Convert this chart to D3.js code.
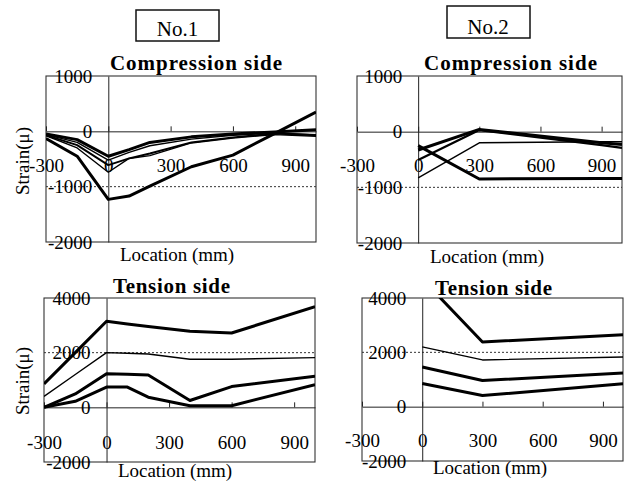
<!DOCTYPE html>
<html>
<head>
<meta charset="utf-8">
<script src="https://cdn.jsdelivr.net/npm/d3@7"></script>
<style>
  body { margin: 0; background: #fff; }
  svg { display: block; font-family: "Liberation Serif", "Times New Roman", serif; }
</style>
</head>
<body>
<svg id="chart" width="627" height="484"></svg>
<script>
// ---------- data ----------
const xTickValues = [-300, 0, 300, 600, 900];
const compYTicks = [1000, 0, -1000, -2000];
const tensYTicks = [4000, 2000, 0, -2000];

// No.1 compression side
const no1CompX = [-300, -150, 0, 100, 200, 400, 600, 800, 1000];
const no1CompA = [-130, -450, -1230, -1170, -990, -640, -430, -40, 350];
const no1CompB = [-80, -300, -740, -490, -440, -210, -120, -60, -90];
const no1CompC = [-50, -150, -450, -330, -200, -100, -50, -10, 30];
const no1CompD = [-60, -200, -520, -380, -260, -140, -70, -30, -60];
const no1CompE = [-70, -250, -610, -490, -400, -200, -110, -40, -70];

// No.2 compression side
const no2CompX = [0, 300, 900, 1000];
const no2CompA = [-250, -850, -840, -840];
const no2CompB = [-330, 40, -200, -230];
const no2CompC = [-510, 30, -240, -290];
const no2CompD = [-830, -200, -180, -180];

// No.1 tension side
const no1TensX = [-300, -150, 0, 100, 200, 400, 600, 1000];
const no1TensA = [860, 2000, 3150, 3050, 2960, 2780, 2720, 3680];
const no1TensB = [400, 1200, 2000, 1980, 1950, 1760, 1760, 1820];
const no1TensC = [0, 490, 1230, 1210, 1180, 250, 760, 1140];
const no1TensD = [0, 220, 740, 740, 370, 60, 60, 830];

// No.2 tension side
const no2TensX = [0, 300, 1000];
const no2TensA = [4700, 2380, 2650];
const no2TensB = [2200, 1720, 1830];
const no2TensC = [1460, 960, 1240];
const no2TensD = [850, 410, 840];

const THICK = 3, THIN = 1.4;
const fmt = d => String(d);

const svg = d3.select("#chart");

function panel(cfg) {
  const x = d3.scaleLinear().domain([-300, 1000]).range([cfg.left, cfg.right]);
  const y = d3.scaleLinear().domain(cfg.yDomain).range([cfg.bottom, cfg.top]);
  const g = svg.append("g");

  const clipId = "clip" + cfg.id;
  svg.append("clipPath").attr("id", clipId)
    .append("rect").attr("x", cfg.left).attr("y", cfg.top)
    .attr("width", cfg.right - cfg.left).attr("height", cfg.bottom - cfg.top);

  // dashed reference line
  g.append("line")
    .attr("x1", cfg.left).attr("x2", cfg.right)
    .attr("y1", y(cfg.dashAt)).attr("y2", y(cfg.dashAt))
    .attr("stroke", "#333").attr("stroke-width", 1).attr("stroke-dasharray", "2,2");

  // box
  g.append("rect")
    .attr("x", cfg.left).attr("y", cfg.top)
    .attr("width", cfg.right - cfg.left).attr("height", cfg.bottom - cfg.top)
    .attr("fill", "none").attr("stroke", "#333").attr("stroke-width", 1.1);

  // x axis along y=0
  const xa = g.append("g").attr("transform", `translate(0,${y(0)})`)
    .call(d3.axisBottom(x).tickValues(xTickValues).tickFormat(fmt)
      .tickSizeInner(-5).tickSizeOuter(0).tickPadding(cfg.xPad));
  // y axis along x=0
  const ya = g.append("g").attr("transform", `translate(${x(0)},0)`)
    .call(d3.axisLeft(y).tickValues(cfg.yTicks).tickFormat(fmt).tickSize(0).tickPadding(16));
  [xa, ya].forEach(a => {
    a.attr("font-family", "Liberation Serif");
    a.selectAll("path.domain").attr("stroke", "#222").attr("stroke-width", 1);
    a.selectAll("line").attr("stroke", "#222").attr("stroke-width", 1);
    a.selectAll("text").attr("font-size", 19).attr("fill", "#000");
  });

  // series
  const line = d3.line().x((d, i) => x(cfg.xs[i])).y(d => y(d));
  cfg.series.forEach(s => {
    g.append("path").datum(s.values)
      .attr("d", line)
      .attr("fill", "none").attr("stroke", "#000")
      .attr("stroke-width", s.w).attr("stroke-linejoin", "round")
      .attr("clip-path", `url(#${clipId})`);
  });

  // title
  g.append("text").text(cfg.title)
    .attr("x", cfg.titleX).attr("y", cfg.titleY)
    .attr("font-size", 21).attr("font-weight", "bold")
    .attr("textLength", cfg.titleW).attr("lengthAdjust", "spacing");

  // x label
  g.append("text").text("Location (mm)")
    .attr("x", cfg.xlabX).attr("y", cfg.xlabY)
    .attr("font-size", 19).attr("textLength", 114).attr("lengthAdjust", "spacing");

  if (cfg.ylab) {
    g.append("text").text("Strain(μ)")
      .attr("transform", `translate(29,${cfg.ylabY}) rotate(-90)`)
      .attr("text-anchor", "middle").attr("font-size", 19);
  }
}

panel({
  id: 1, left: 46, right: 316, top: 76, bottom: 242, yDomain: [-2000, 1000],
  yTicks: compYTicks, dashAt: -1000, xPad: 27, xs: no1CompX,
  series: [
    { values: no1CompA, w: THICK }, { values: no1CompB, w: THIN },
    { values: no1CompC, w: THICK }, { values: no1CompD, w: THIN },
    { values: no1CompE, w: 1.9 }
  ],
  title: "Compression side", titleX: 110, titleY: 70, titleW: 172,
  xlabX: 120, xlabY: 261, ylab: true, ylabY: 161
});

panel({
  id: 2, left: 357, right: 622, top: 76, bottom: 243, yDomain: [-2000, 1000],
  yTicks: compYTicks, dashAt: -1000, xPad: 27, xs: no2CompX,
  series: [
    { values: no2CompA, w: THICK }, { values: no2CompB, w: THICK },
    { values: no2CompC, w: 2.3 }, { values: no2CompD, w: THIN }
  ],
  title: "Compression side", titleX: 424, titleY: 70, titleW: 173,
  xlabX: 430, xlabY: 263, ylab: false
});

panel({
  id: 3, left: 44, right: 315, top: 298, bottom: 462, yDomain: [-2000, 4000],
  yTicks: tensYTicks, dashAt: 2000, xPad: 28, xs: no1TensX,
  series: [
    { values: no1TensA, w: THICK }, { values: no1TensB, w: THIN },
    { values: no1TensC, w: THICK }, { values: no1TensD, w: THICK }
  ],
  title: "Tension side", titleX: 113, titleY: 293, titleW: 117,
  xlabX: 118, xlabY: 477, ylab: true, ylabY: 381
});

panel({
  id: 4, left: 362, right: 623, top: 298, bottom: 461, yDomain: [-2000, 4000],
  yTicks: tensYTicks, dashAt: 2000, xPad: 27, xs: no2TensX,
  series: [
    { values: no2TensA, w: THICK }, { values: no2TensB, w: THIN },
    { values: no2TensC, w: THICK }, { values: no2TensD, w: THICK }
  ],
  title: "Tension side", titleX: 435, titleY: 295, titleW: 117,
  xlabX: 433, xlabY: 474, ylab: false
});

// specimen label boxes
[{ t: "No.1", x: 136, y: 10, w: 83, h: 31, tx: 177.5, ty: 36 },
 { t: "No.2", x: 447, y: 6, w: 83, h: 32, tx: 488, ty: 34 }].forEach(b => {
  svg.append("rect").attr("x", b.x).attr("y", b.y).attr("width", b.w).attr("height", b.h)
    .attr("fill", "none").attr("stroke", "#111").attr("stroke-width", 1.5);
  svg.append("text").text(b.t).attr("x", b.tx).attr("y", b.ty)
    .attr("text-anchor", "middle").attr("font-size", 21);
});
</script>
</body>
</html>
